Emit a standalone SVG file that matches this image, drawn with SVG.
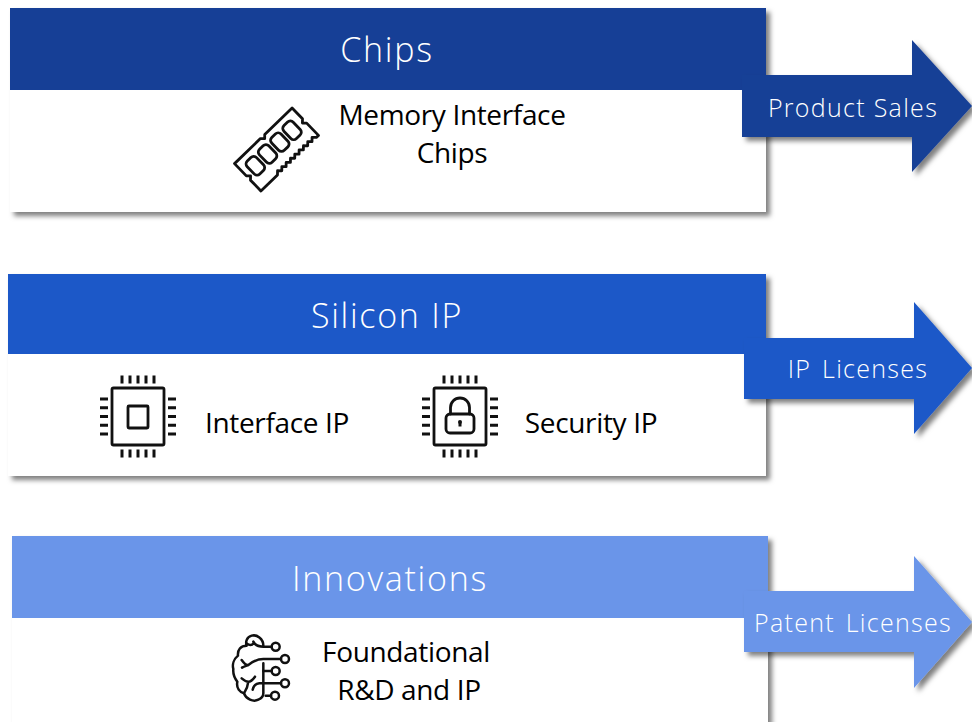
<svg xmlns="http://www.w3.org/2000/svg" width="972" height="722" viewBox="0 0 972 722">
<style>
text{font-family:"Open Sans","Noto Sans","Liberation Sans",sans-serif}
.title{font-size:34px;font-weight:300;fill:#fff;text-anchor:middle;letter-spacing:1.7px}
.arrow-label{font-size:25px;font-weight:300;fill:#fff;text-anchor:middle;letter-spacing:1.3px}
.body{font-size:28px;font-weight:400;fill:#000;text-anchor:middle;letter-spacing:-0.35px}
.ic{fill:none;stroke:#111;stroke-width:2.8;stroke-linejoin:round;stroke-linecap:round}
.br{fill:none;stroke:#111;stroke-width:7.5;stroke-linejoin:round;stroke-linecap:round}
.pin{fill:none;stroke:#111;stroke-width:3}
.c1{fill:#163f96}.c2{fill:#1c58c8}.c3{fill:#6a95e9}
.card{fill:#fff}
</style>
<defs>
<filter id="sh" x="-5%" y="-10%" width="112%" height="125%"><feDropShadow dx="4" dy="4" stdDeviation="2.5" flood-color="#000" flood-opacity="0.5"/></filter>
<g id="pins">
<path class="pin" d="M-16,-41v8M-8,-41v8M0,-41v8M8,-41v8M16,-41v8M-16,33v8M-8,33v8M0,33v8M8,33v8M16,33v8M-38,-17.500h8M-38,-8.750h8M-38,0h8M-38,8.750h8M-38,17.500h8M30,-17.500h8M30,-8.750h8M30,0h8M30,8.750h8M30,17.500h8"/>
<rect class="ic" x="-26" y="-28.500" width="52" height="57" rx="1.500"/>
</g>
</defs>

<g id="chips">
<rect class="card" x="10" y="8" width="756" height="204" filter="url(#sh)"/>
<rect class="c1" x="10" y="8" width="756" height="82"/>
<text class="title" x="387" y="62">Chips</text>
<g transform="translate(276.500,149.500) rotate(-44)">
<path class="ic" d="M-40,-19H-4l3,3 3,-3H40V-4l-3,3 3,3V19H37l-3,-3-3,3-3,-3-3,3-3,-3-3,3-3,-3-3,3-3,-3-3,3-3,-3-3,3-3,-3-3,3-3,-3-3,3-3,-3-3,3H-40V4l3,-3-3,-3Z"/>
<rect class="ic" x="-33" y="-12" width="13" height="18" rx="4"/>
<rect class="ic" x="-16" y="-12" width="13" height="18" rx="4"/>
<rect class="ic" x="1" y="-12" width="13" height="18" rx="4"/>
<rect class="ic" x="18" y="-12" width="13" height="18" rx="4"/>
</g>
<text class="body" x="452" y="125">Memory Interface</text>
<text class="body" x="452" y="163">Chips</text>
</g>

<g id="silicon-ip">
<rect class="card" x="8" y="274" width="758" height="202" filter="url(#sh)"/>
<rect class="c2" x="8" y="274" width="758" height="80"/>
<text class="title" x="387" y="328">Silicon IP</text>
<g transform="translate(138,416.500)">
<use href="#pins"/>
<rect class="ic" x="-10" y="-10.500" width="20" height="22" rx="1"/>
</g>
<text class="body" x="277" y="433">Interface IP</text>
<g transform="translate(460,416.500)">
<use href="#pins"/>
<rect class="ic" x="-14" y="-2.500" width="28" height="19" rx="4"/>
<path class="ic" d="M-9.500,-2.500V-9a9.500,9.500 0 0 1 19,0V-2.500"/>
<circle cx="0" cy="5.500" r="2" fill="#111"/>
<path class="pin" d="M0,6v4"/>
</g>
<text class="body" x="591" y="433">Security IP</text>
</g>

<g id="innovations">
<rect class="card" x="12" y="536" width="756" height="200" filter="url(#sh)"/>
<rect class="c3" x="12" y="536" width="756" height="82"/>
<text class="title" x="390" y="591">Innovations</text>
<g transform="translate(220,625) scale(0.3333)">
<path class="br" d="M130,62C130,40 110,28 95,32C80,36 76,50 80,62C62,62 52,75 54,92C42,102 36,118 40,132C38,150 46,162 52,170C48,190 60,202 72,205C78,222 100,232 115,224C125,220 130,212 130,205V115"/>
<path class="br" d="M80,55C88,62 96,62 100,55M100,50C105,60 118,65 130,65H155M183,102H130C115,102 95,112 85,120C78,122 70,112 65,105M85,120C80,122 72,124 66,128M130,138H155M183,175H118C108,176 100,184 98,194M65,160C72,166 78,170 85,170C92,170 100,162 105,155M85,170C84,180 78,196 72,205M137,212H153"/>
<circle class="br" cx="167" cy="65" r="12"/>
<circle class="br" cx="195" cy="102" r="12"/>
<circle class="br" cx="167" cy="138" r="12"/>
<circle class="br" cx="195" cy="175" r="12"/>
<circle class="br" cx="165" cy="212" r="12"/>
</g>
<text class="body" x="406" y="662">Foundational</text>
<text class="body" x="409" y="700">R&amp;D and IP</text>
</g>

<g id="connectors">
<g id="arrow-product-sales">
<path class="c1" filter="url(#sh)" d="M742,75H912V40L972,106L912,172V137H742Z"/>
<text class="arrow-label" x="853" y="117">Product Sales</text>
</g>
<g id="arrow-ip-licenses">
<path class="c2" filter="url(#sh)" d="M744,338H914V302L972,368L914,434V399H744Z"/>
<text class="arrow-label" x="858" y="378" word-spacing="3">IP Licenses</text>
</g>
<g id="arrow-patent-licenses">
<path class="c3" filter="url(#sh)" d="M744,591H914V556L972,622L914,688V652H744Z"/>
<text class="arrow-label" x="853" y="632" word-spacing="3">Patent Licenses</text>
</g>
</g>
</svg>
